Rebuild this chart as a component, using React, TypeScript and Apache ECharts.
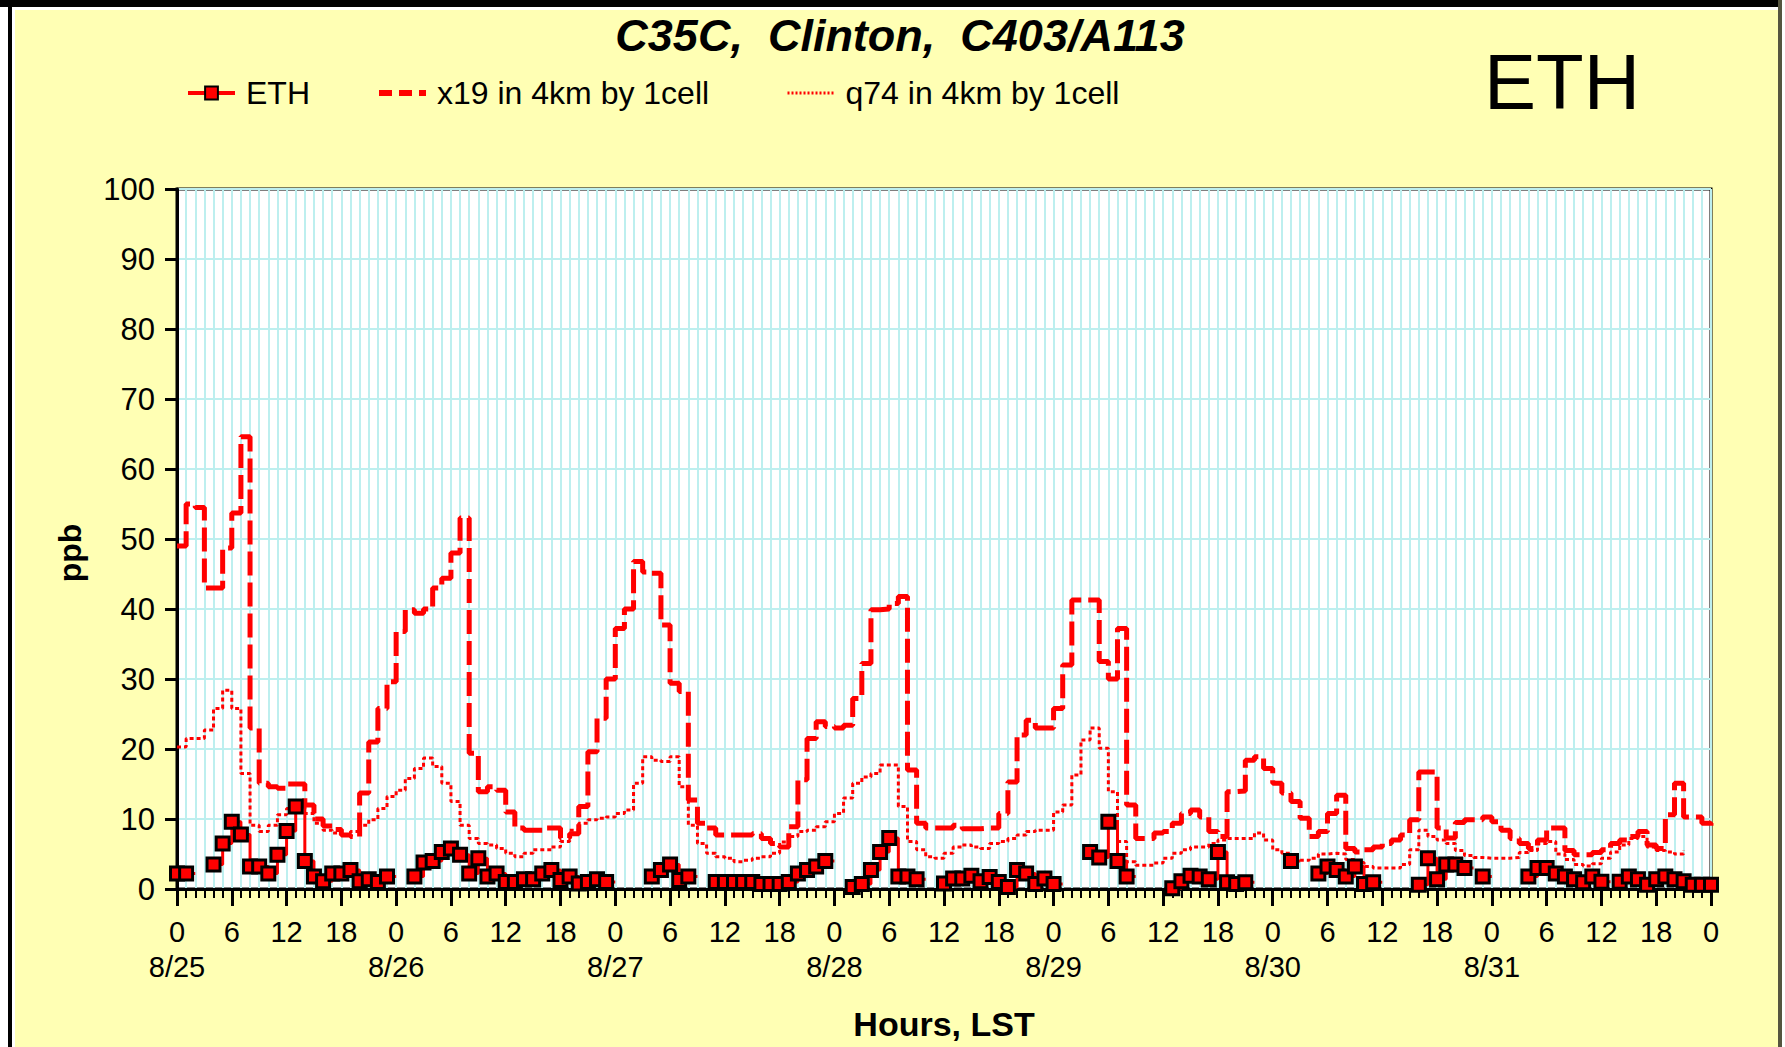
import React, { useEffect, useRef } from 'react';
import * as echarts from 'echarts';

// Hourly values (hour 0 = 8/25 00:00 LST), each value held for one hour
const X19: number[] = [
  49, 55, 54.5, 43, 43, 48.7, 53.7, 64.6, 23, 15.1, 14.6, 14.4, 15, 15, 12, 10, 9, 8.5, 7.7, 7.5, 13.7, 21, 25.8, 29.6,
  36.8, 39.9, 39.4, 40, 43, 44.4, 48, 53, 19.4, 13.9, 14.6, 14.1, 11, 8.7, 8.4, 8.4, 8.7, 8.7, 7.3, 7.9, 11.8, 19.6, 24.4, 30,
  37.2, 40, 46.8, 45.3, 45.1, 37.7, 29.4, 28.2, 12.7, 9.4, 8.7, 7.7, 7.7, 7.7, 7.7, 7.9, 7.2, 6.5, 6.0, 8.9, 15.6, 21.5, 23.9, 23.2,
  23, 23.4, 27.2, 32.2, 39.9, 40, 40.8, 41.8, 17, 9.4, 8.7, 8.7, 8.7, 9.1, 8.6, 8.6, 8.7, 8.7, 10.8, 15.3, 22, 24.1, 23, 23,
  25.8, 32, 41.3, 41.3, 41.3, 32.5, 30, 37.2, 12, 7.2, 7.2, 8, 8.2, 9.4, 10.8, 11.3, 10.3, 8.2, 7.5, 13.9, 14, 18.4, 18.9, 17.2,
  15.1, 13.7, 12.5, 10.1, 7.5, 8.2, 10.8, 13.4, 5.8, 5.3, 5.6, 6, 6.5, 7, 7.7, 9.9, 16.7, 16.7, 8.7, 7.3, 9.5, 9.9, 9.9, 10.3,
  9.6, 8.4, 7.2, 6.5, 5.8, 7, 8.7, 8.7, 5.5, 4.9, 4.9, 5.2, 5.6, 6.5, 7, 7.5, 8.2, 6.3, 5.8, 10.6, 15.1, 10.3, 10.3, 9.4,
  8.7,
];

const Q74: number[] = [
  20.3, 21.5, 21.5, 22.7, 25.8, 28.4, 25.8, 16.5, 9.1, 8.2, 9.1, 10.6, 11.5, 11.8, 10.8, 9.4, 8.4, 8, 7.7, 8.2, 9.1, 9.9, 11.5, 13.2,
  14.1, 15.8, 17.2, 18.7, 17.5, 15.1, 12.5, 9.1, 7.2, 6.5, 6.3, 5.8, 5.1, 4.6, 5.1, 5.6, 5.6, 6, 6.8, 8.4, 9.4, 9.9, 10.1, 10.3,
  10.8, 11.3, 15.1, 18.9, 18.4, 18.2, 18.9, 14.6, 9.1, 6.5, 5.1, 4.6, 4.4, 3.9, 4.1, 4.4, 4.6, 5.1, 6.7, 7.5, 8.2, 8.4, 8.9, 9.6,
  10.8, 13, 15.1, 16, 16.5, 17.7, 17.7, 11.8, 6.8, 5.6, 4.6, 4.4, 5.1, 6, 6.3, 6, 5.8, 6.5, 6.8, 7.2, 7.7, 8.2, 8.4, 8.4,
  11, 12, 16.3, 21.3, 23, 20.1, 13.9, 6.8, 3.9, 3.4, 3.4, 3.7, 4.4, 5.1, 5.6, 6, 6, 6.5, 7, 7.2, 7.2, 7.2, 8, 7,
  5.6, 5.1, 4.4, 4.1, 4.4, 5, 5.1, 5, 4.2, 3.8, 3.2, 3, 3, 3, 3.5, 5.6, 8.4, 7.5, 7, 6.5, 5.5, 4.8, 4.5, 4.4,
  4.4, 4.4, 4.5, 5.2, 5.5, 6.5, 6.8, 5, 4.2, 3.5, 3.3, 3.6, 4.4, 5.3, 6.3, 7.2, 7.5, 6, 5.5, 5.3, 5, 5.5,
];

const ETH_OBS: (number | null)[] = [
  2.2, 2.2, null, null, 3.5, 6.5, 9.6, 7.8, 3.2, 3.2, 2.2, 4.9, 8.3, 11.8, 4.0, 1.8, 1.1, 2.2, 2.2, 2.7, 1.1, 1.4, 1.0, 1.8,
  null, null, 1.8, 3.8, 4.0, 5.3, 5.8, 4.9, 2.2, 4.4, 1.8, 2.2, 1.0, 1.0, 1.4, 1.4, 2.2, 2.7, 1.3, 1.8, 0.8, 1.0, 1.4, 1.0,
  null, null, null, null, 1.8, 2.7, 3.5, 1.3, 1.8, null, null, 1.0, 1.0, 1.0, 1.0, 1.0, 0.7, 0.7, 0.7, 1.0, 2.2, 2.7, 3.2, 4.0,
  null, null, 0.3, 0.7, 2.7, 5.3, 7.3, 1.8, 1.8, 1.4, null, null, 0.8, 1.5, 1.5, 1.9, 1.1, 1.7, 1.0, 0.3, 2.7, 2.2, 0.7, 1.5,
  0.7, null, null, null, 5.3, 4.5, 9.6, 4.0, 1.8, null, null, null, null, 0.1, 1.1, 1.9, 1.8, 1.4, 5.3, 0.95, 0.7, 0.95, null, null,
  null, null, 4.0, null, null, 2.2, 3.2, 2.7, 1.8, 3.2, 0.7, 0.95, null, null, null, null, 0.6, 4.4, 1.4, 3.5, 3.5, 3.0, null, 1.8,
  null, null, null, null, 1.8, 3.0, 3.0, 2.2, 1.8, 1.4, 0.95, 1.8, 1.05, null, 1.05, 1.8, 1.4, 0.6, 1.4, 1.8, 1.4, 1.1, 0.6, 0.6,
  0.6,
];

const DATES = ['8/25', '8/26', '8/27', '8/28', '8/29', '8/30', '8/31'];
const SERIES_NAMES = ['ETH', 'x19 in 4km by 1cell', 'q74 in 4km by 1cell'];
const TITLE = 'C35C,  Clinton,  C403/A113';
const SPECIES = 'ETH';
const X_NAME = 'Hours, LST';
const Y_NAME = 'ppb';

const FONT = '"Liberation Sans", Arial, sans-serif';
const RED = '#FF0000';
const GRID_CYAN = '#BDEFEF';
const YELLOW = '#FFFFB4';

export default function App() {
  const ref = useRef<HTMLDivElement>(null);

  useEffect(() => {
    if (!ref.current) return;
    const chart = echarts.init(ref.current, undefined, { renderer: 'svg' });

    const toPairs = (arr: (number | null)[]) => arr.map((v, i) => [i, v]);

    const legendBase = {
      top: 72,
      itemWidth: 47,
      itemHeight: 16,
      textStyle: { fontSize: 32, color: '#000', fontFamily: FONT, padding: [0, 0, 0, 6] },
    };

    const option: any = {
      animation: false,
      backgroundColor: YELLOW,
      textStyle: { fontFamily: FONT },
      graphic: [
        { type: 'rect', shape: { x: 0, y: 0, width: 8, height: 1047 }, style: { fill: '#FFFFFF' }, z: 100 },
        { type: 'rect', shape: { x: 8, y: 0, width: 4, height: 1047 }, style: { fill: '#000000' }, z: 100 },
        { type: 'rect', shape: { x: 12, y: 7, width: 3, height: 1040 }, style: { fill: '#FFFFFF' }, z: 100 },
        { type: 'rect', shape: { x: 0, y: 0, width: 1785, height: 7 }, style: { fill: '#000000' }, z: 100 },
        { type: 'rect', shape: { x: 12, y: 7, width: 1766, height: 3 }, style: { fill: '#FFFFFF' }, z: 100 },
        { type: 'rect', shape: { x: 1778, y: 0, width: 4, height: 1047 }, style: { fill: '#55553F' }, z: 100 },
        { type: 'rect', shape: { x: 1782, y: 0, width: 3, height: 1047 }, style: { fill: '#FFFFFF' }, z: 100 },
        {
          type: 'text', x: 900, y: 13, z: 100,
          style: {
            text: TITLE, align: 'center', verticalAlign: 'top',
            font: 'italic bold 45px "Liberation Sans", Arial, sans-serif', fill: '#000',
          },
        },
        {
          type: 'text', x: 1484, y: 43, z: 100,
          style: {
            text: SPECIES, align: 'left', verticalAlign: 'top',
            font: '78px "Liberation Sans", Arial, sans-serif', fill: '#000',
          },
        },
        {
          type: 'text', x: 70, y: 553, z: 100, rotation: Math.PI / 2,
          style: {
            text: Y_NAME, align: 'center', verticalAlign: 'middle',
            font: 'bold 32px "Liberation Sans", Arial, sans-serif', fill: '#000',
          },
        },
      ],
      legend: [
        {
          ...legendBase, left: 181,
          data: [{ name: SERIES_NAMES[0], lineStyle: { width: 4, color: RED } }],
        },
        {
          ...legendBase, left: 371,
          data: [{
            name: SERIES_NAMES[1], itemStyle: { opacity: 0 },
            lineStyle: { width: 6, color: RED, type: [13, 7] },
          }],
        },
        {
          ...legendBase, left: 781,
          data: [{
            name: SERIES_NAMES[2], itemStyle: { opacity: 0 },
            lineStyle: { width: 3, color: RED, type: [2, 2] },
          }],
        },
      ],
      grid: {
        left: 177, top: 189, width: 1534, height: 700,
        show: true, backgroundColor: '#FFFFFF', borderColor: '#000', borderWidth: 3,
      },
      xAxis: {
        type: 'value', min: 0, max: 168, interval: 6,
        axisLine: { show: true, onZero: false, lineStyle: { color: '#000', width: 3 } },
        axisTick: { show: true, length: 17, lineStyle: { color: '#000', width: 3 } },
        minorTick: { show: true, splitNumber: 6, length: 9, lineStyle: { color: '#000', width: 2 } },
        splitLine: { show: true, lineStyle: { color: GRID_CYAN, width: 2 } },
        minorSplitLine: { show: true, lineStyle: { color: GRID_CYAN, width: 2 } },
        axisLabel: {
          color: '#000', fontSize: 29, lineHeight: 35, margin: 25, fontFamily: FONT,
          formatter: (v: number) => {
            const h = v % 24;
            if (h === 0 && v < 168) return `${h}\n${DATES[v / 24]}`;
            return `${h}`;
          },
        },
        name: X_NAME, nameLocation: 'middle', nameGap: 118,
        nameTextStyle: { fontWeight: 'bold', fontSize: 34, color: '#000', fontFamily: FONT },
      },
      yAxis: {
        type: 'value', min: 0, max: 100, interval: 10,
        axisLine: { show: true, lineStyle: { color: '#000', width: 3 } },
        axisTick: { show: true, length: 12, lineStyle: { color: '#000', width: 3 } },
        splitLine: { show: true, lineStyle: { color: GRID_CYAN, width: 2 } },
        axisLabel: { color: '#000', fontSize: 31, margin: 22, fontFamily: FONT },
      },
      series: [
        {
          name: SERIES_NAMES[0], type: 'line', step: 'end',
          data: toPairs(ETH_OBS), connectNulls: false,
          symbol: 'rect', symbolSize: 13, showAllSymbol: true,
          lineStyle: { color: RED, width: 3 },
          itemStyle: { color: RED, borderColor: '#000', borderWidth: 3 },
          z: 5,
        },
        {
          name: SERIES_NAMES[1], type: 'line', step: 'end',
          data: toPairs(X19), symbol: 'none',
          lineStyle: { color: RED, width: 5, type: [24, 7] },
          itemStyle: { color: RED },
          z: 4,
        },
        {
          name: SERIES_NAMES[2], type: 'line', step: 'end',
          data: toPairs(Q74), symbol: 'none',
          lineStyle: { color: RED, width: 3, type: [4, 3] },
          itemStyle: { color: RED },
          z: 3,
        },
      ],
    };

    chart.setOption(option);
    return () => chart.dispose();
  }, []);

  return (
    <div
      ref={ref}
      style={{ position: 'fixed', left: 0, top: 0, width: 1785, height: 1047 }}
    />
  );
}
